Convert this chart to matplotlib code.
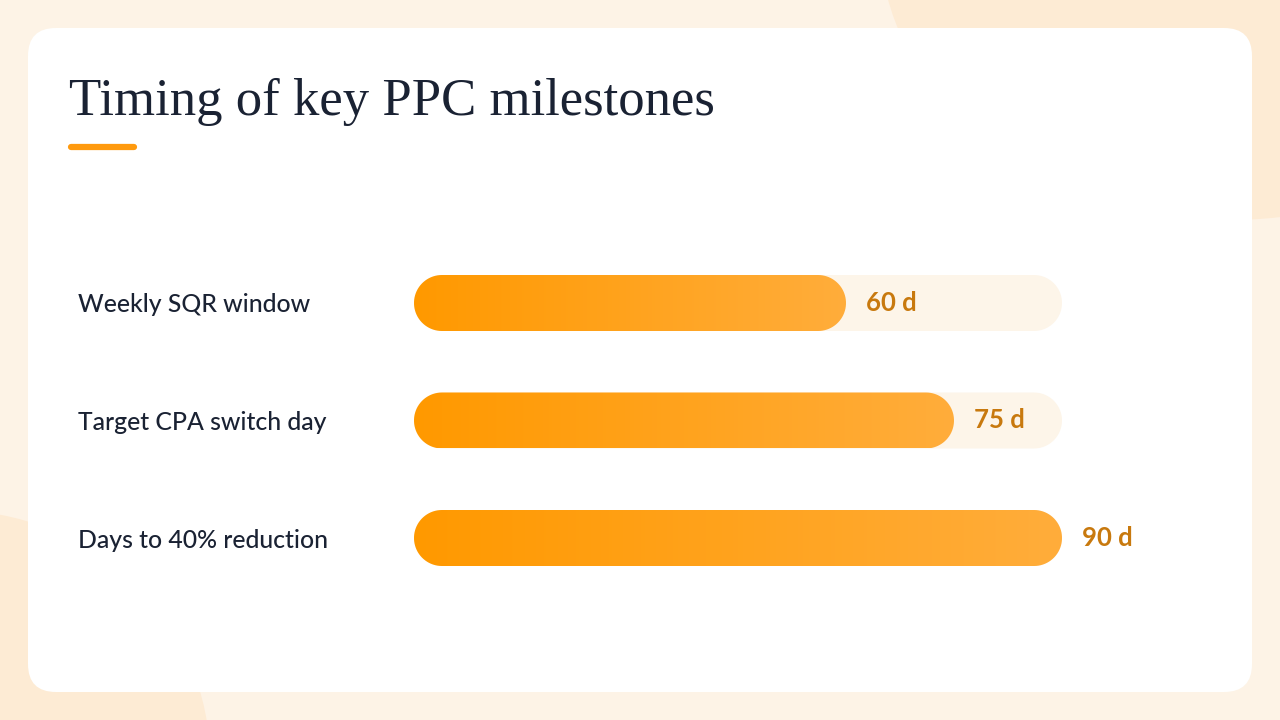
import numpy as np
import matplotlib
matplotlib.use("Agg")
import matplotlib.pyplot as plt
from matplotlib.patches import FancyBboxPatch, Ellipse, Polygon
from matplotlib.colors import LinearSegmentedColormap

# data
labels = ["Weekly SQR window", "Target CPA switch day", "Days to 40% reduction"]
days = [60, 75, 90]
max_days = 90
title = "Timing of key PPC milestones"

W, H = 1280, 720
fig = plt.figure(figsize=(W / 100, H / 100), dpi=100)

# background layer in pixel coords (y down)
bg = fig.add_axes([0, 0, 1, 1])
bg.set_xlim(0, W)
bg.set_ylim(H, 0)
bg.axis("off")
bg.add_patch(plt.Rectangle((0, 0), W, H, color="#fdf3e6", zorder=0))
bg.add_patch(Ellipse((1230, -60), 700, 560, color="#fdebd4", lw=0, zorder=1))
bg.add_patch(Ellipse((-50, 760), 520, 500, color="#fdebd4", lw=0, zorder=1))
card = FancyBboxPatch((28, 28), 1224, 664, boxstyle="round,pad=0,rounding_size=28",
                      fc="white", ec="none", zorder=2)
bg.add_patch(card)
bg.text(69, 115, title, fontsize=38, family="Liberation Serif", color="#1a2233",
        va="baseline", ha="left", zorder=3)
bg.plot([71, 134], [147, 147], color="#ff9a0e", lw=4.5, solid_capstyle="round", zorder=3)

# bar axes: x 0..90 maps to px 414..1062, rows at px 303 / 420.5 / 538
left, right = 414, 1062
top, bottom = 244.25, 596.75
ax = fig.add_axes([left / W, 1 - bottom / H, (right - left) / W, (bottom - top) / H])
ax.patch.set_alpha(0)
for s in ax.spines.values():
    s.set_visible(False)
ax.set_xticks([])

px_x = max_days / (right - left)       # data units per pixel, x
px_y = 1.0 / 117.5                      # data units per pixel, y
r_px = 28


def pill(x0, x1, yc):
    # rounded bar with true semicircular ends, in data units
    rx, ry = r_px * px_x, r_px * px_y
    t1 = np.linspace(-np.pi / 2, np.pi / 2, 40)
    t0 = np.linspace(np.pi / 2, 3 * np.pi / 2, 40)
    right_end = np.column_stack([x1 - rx + rx * np.cos(t1), yc + ry * np.sin(t1)])
    left_end = np.column_stack([x0 + rx + rx * np.cos(t0), yc + ry * np.sin(t0)])
    return np.vstack([right_end, left_end])


cmap = LinearSegmentedColormap.from_list("bar", ["#ff9900", "#ffad3b"])
grad = np.linspace(0, 1, 256).reshape(1, -1)
half = r_px * px_y

for i, v in enumerate(days):
    ax.add_patch(Polygon(pill(0, max_days, i), closed=True, fc="#fdf5e9", ec="none", zorder=1))
    clip = Polygon(pill(0, v, i), closed=True, fc="none", ec="none")
    ax.add_patch(clip)
    im = ax.imshow(grad, cmap=cmap, aspect="auto", zorder=2,
                   extent=(0, v, i + half, i - half))
    im.set_clip_path(clip)
    ax.annotate(f"{v} d", (v, i), xytext=(20 * 0.72, 0), textcoords="offset points",
                ha="left", va="center", fontsize=18.5, fontweight="bold",
                family="Lato", color="#c8790e")

ax.set_xlim(0, max_days)
ax.set_ylim(len(labels) - 0.5, -0.5)
ax.set_yticks(range(len(labels)))
ax.set_yticklabels(labels, ha="left", fontsize=17.8, family="Lato",
                   fontweight="medium", color="#1a2233")
ax.tick_params(axis="y", length=0, pad=(left - 78) * 0.72)

fig.savefig("out.png", dpi=100)
